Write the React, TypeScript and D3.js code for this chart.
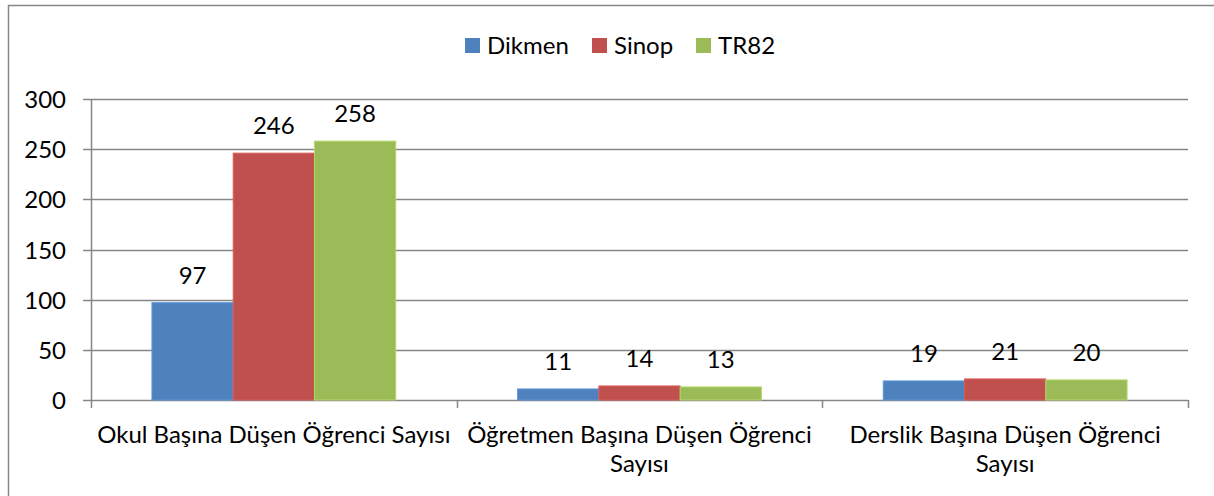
import React, { useRef, useEffect } from 'react';
import * as d3 from 'd3';

// chart data
const categories = [
  'Okul Başına Düşen Öğrenci Sayısı',
  'Öğretmen Başına Düşen Öğrenci\nSayısı',
  'Derslik Başına Düşen Öğrenci\nSayısı',
];
const seriesNames = ['Dikmen', 'Sinop', 'TR82'];
const dikmen = [97, 11, 19];
const sinop = [246, 14, 21];
const tr82 = [258, 13, 20];
const yTicks = [0, 50, 100, 150, 200, 250, 300];
const colors = ['#4F81BD', '#C0504D', '#9BBB59'];

function App() {
  const svgRef = useRef<SVGSVGElement | null>(null);

  useEffect(() => {
    document.body.style.margin = '0';
    const width = 1214;
    const height = 496;
    const font = 'Lato, Calibri, sans-serif';
    const fs = 24;
    const values = [dikmen, sinop, tr82];

    const svg = d3.select(svgRef.current)
      .attr('width', width)
      .attr('height', height);
    svg.selectAll('*').remove();

    // outer frame
    svg.append('rect')
      .attr('x', 8.5).attr('y', 5.5)
      .attr('width', 1220).attr('height', 520)
      .attr('fill', '#fff')
      .attr('stroke', '#868686')
      .attr('stroke-width', 1.5);

    // scales
    const x0 = d3.scaleBand()
      .domain(categories)
      .range([91, 1188])
      .paddingInner(0)
      .paddingOuter(0);

    const x1 = d3.scaleBand()
      .domain(seriesNames)
      .range([0, x0.bandwidth()])
      .paddingOuter(0.75)
      .paddingInner(0);

    const y = d3.scaleLinear().domain([0, 300]).range([400, 99]);

    // gridlines
    svg.append('g')
      .selectAll('line')
      .data(yTicks)
      .enter()
      .append('line')
      .attr('x1', 83).attr('x2', 1188)
      .attr('y1', d => Math.round(y(d)) + 0.5)
      .attr('y2', d => Math.round(y(d)) + 0.5)
      .attr('stroke', '#868686')
      .attr('stroke-width', 1.5);

    // y axis line
    svg.append('line')
      .attr('x1', 91.5).attr('x2', 91.5)
      .attr('y1', y(300)).attr('y2', 408)
      .attr('stroke', '#868686')
      .attr('stroke-width', 1.5);

    // y tick labels
    svg.append('g')
      .selectAll('text')
      .data(yTicks)
      .enter()
      .append('text')
      .attr('x', 66)
      .attr('y', d => y(d) + 9)
      .attr('text-anchor', 'end')
      .attr('font-family', font)
      .attr('font-size', fs)
      .attr('fill', '#000')
      .text(d => d);

    // x ticks at category boundaries
    const bounds = categories.map(c => x0(c)! + x0.bandwidth());
    svg.append('g')
      .selectAll('line')
      .data(bounds)
      .enter()
      .append('line')
      .attr('x1', d => Math.round(d) + 0.5)
      .attr('x2', d => Math.round(d) + 0.5)
      .attr('y1', 400).attr('y2', 408)
      .attr('stroke', '#868686')
      .attr('stroke-width', 1.5);

    // bars
    const groups = svg.append('g')
      .selectAll('g')
      .data(categories)
      .enter()
      .append('g')
      .attr('transform', d => `translate(${x0(d)},0)`);

    groups.selectAll('rect')
      .data((_, i) => seriesNames.map((s, j) => ({ s, v: values[j][i], j })))
      .enter()
      .append('rect')
      .attr('x', d => x1(d.s)!)
      .attr('y', d => y(d.v))
      .attr('width', x1.bandwidth())
      .attr('height', d => y(0) - y(d.v))
      .attr('fill', d => colors[d.j])
      .attr('stroke', d => d3.color(colors[d.j])!.brighter(0.4).toString())
      .attr('stroke-width', 1);

    // value labels
    groups.selectAll('text')
      .data((_, i) => seriesNames.map((s, j) => ({ s, v: values[j][i], j })))
      .enter()
      .append('text')
      .attr('x', d => x1(d.s)! + x1.bandwidth() / 2)
      .attr('y', d => y(d.v) - 19)
      .attr('text-anchor', 'middle')
      .attr('font-family', font)
      .attr('font-size', fs)
      .attr('fill', '#000')
      .text(d => d.v);

    // category labels
    const catLabels = svg.append('g')
      .selectAll('text')
      .data(categories)
      .enter()
      .append('text')
      .attr('text-anchor', 'middle')
      .attr('font-family', font)
      .attr('font-size', fs)
      .attr('fill', '#000');

    catLabels.selectAll('tspan')
      .data(d => d.split('\n').map(line => ({ line, cat: d })))
      .enter()
      .append('tspan')
      .attr('x', d => x0(d.cat)! + x0.bandwidth() / 2)
      .attr('y', (_, i) => 443 + i * 29)
      .text(d => d.line);

    // legend
    const legendX = [465, 592, 696];
    const legend = svg.append('g')
      .selectAll('g')
      .data(seriesNames)
      .enter()
      .append('g')
      .attr('transform', (_, i) => `translate(${legendX[i]},38)`);

    legend.append('rect')
      .attr('width', 15).attr('height', 15)
      .attr('fill', (_, i) => colors[i]);

    legend.append('text')
      .attr('x', 22)
      .attr('y', 16)
      .attr('font-family', font)
      .attr('font-size', fs)
      .attr('fill', '#000')
      .text(d => d);
  }, []);

  return <svg ref={svgRef} style={{ display: 'block' }}></svg>;
}

export default App;
